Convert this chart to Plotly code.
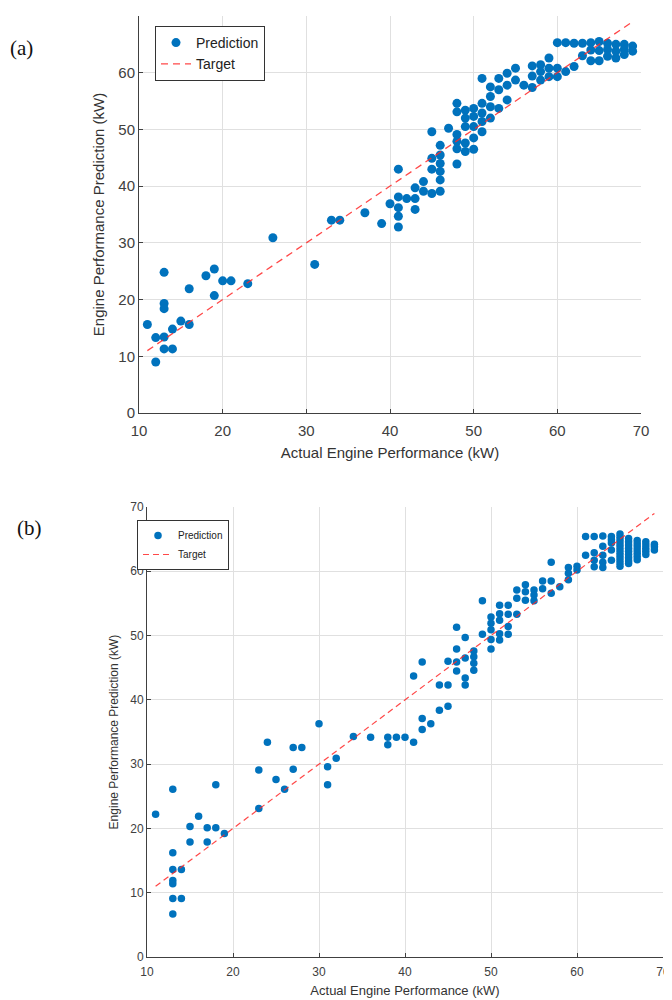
import plotly.graph_objects as go

# ---------------- data: panel (a) ----------------
a_actual = [11, 12, 12, 13, 13, 13, 13, 13, 14, 14, 15, 16, 16, 18, 19, 19, 20, 21, 23, 26, 31,
            33, 34, 37, 39, 40,
            41, 41, 41, 41, 41,
            42, 43, 43, 43, 44, 44,
            45, 45, 45, 45,
            46, 46, 46, 46, 46, 46,
            47,
            48, 48, 48, 48, 48, 48,
            49, 49, 49, 49, 49,
            50, 50, 50, 50, 50,
            51, 51, 51, 51, 51,
            52, 52, 52, 52,
            53, 53, 53,
            54, 54, 54,
            55, 55,
            56,
            57, 57, 57,
            58, 58, 58,
            59, 59, 59,
            60, 60, 60,
            61, 61,
            62, 62,
            63, 63,
            64, 64, 64,
            65, 65, 65,
            66, 66, 66,
            67, 67, 67,
            68, 68, 68,
            69, 69]
a_pred = [15.6, 13.3, 9.0, 24.8, 19.3, 18.4, 13.4, 11.3, 11.3, 14.8, 16.2, 15.6, 21.9, 24.2, 25.4, 20.7, 23.3, 23.3, 22.8, 30.9, 26.2,
          34.0, 34.0, 35.3, 33.4, 36.9,
          43.0, 38.1, 36.2, 34.7, 32.8,
          37.8, 39.7, 37.8, 35.9, 40.8, 39.1,
          49.6, 44.9, 43.0, 38.7,
          47.2, 45.5, 44.0, 42.6, 41.1, 39.1,
          50.2,
          54.6, 53.1, 49.1, 47.9, 46.6, 43.9,
          53.4, 52.0, 50.5, 47.6, 46.1,
          53.7, 52.3, 50.5, 48.5, 46.5,
          59.0, 54.6, 52.9, 51.4, 49.6,
          57.5, 55.8, 54.0, 52.0,
          59.0, 57.0, 53.7,
          59.9, 57.8, 55.2,
          60.8, 58.7,
          57.8,
          61.2, 59.4, 57.4,
          61.4, 60.2, 58.7,
          62.6, 60.8, 59.3,
          65.3, 60.8, 59.3,
          65.3, 60.2,
          65.2, 61.1,
          65.2, 63.0,
          65.3, 64.0, 62.1,
          65.5, 63.9, 62.1,
          65.2, 64.1, 62.9,
          65.0, 63.8, 62.6,
          65.0, 64.1, 63.2,
          64.7, 63.8]

# ---------------- data: panel (b) ----------------
b_actual = [11, 13, 13, 13, 13, 13, 13, 13, 14, 14,
            15, 15, 16, 17, 17, 18, 18, 19,
            23, 23, 24, 25, 26, 27, 27, 28, 30, 31, 31, 32, 34, 36, 38, 38, 39, 40, 41, 41,
            42, 42, 42, 43, 44, 44, 45, 45, 45,
            46, 46, 46, 46, 47, 47, 47, 47,
            48, 48, 48, 48, 49, 49,
            50, 50, 50, 50, 50,
            51, 51, 51, 51, 51,
            52, 52, 52, 52,
            53, 53, 53,
            54, 54, 54,
            55, 55, 55,
            56, 56,
            57, 57, 57,
            58,
            59, 59, 59,
            60, 60,
            61, 61,
            62, 62, 62, 62,
            63, 63, 63, 63, 63,
            64, 64, 64, 64, 64,
            65, 65, 65, 65, 65, 65, 65, 65, 65, 65, 65,
            66, 66, 66, 66, 66, 66, 66, 66, 66,
            67, 67, 67, 67, 67, 67, 67,
            68, 68, 68, 68, 68,
            69, 69, 69]
b_pred = [22.2, 26.1, 16.2, 13.6, 11.9, 11.4, 9.1, 6.7, 13.6, 9.1,
          20.3, 17.9, 21.9, 20.1, 17.9, 20.1, 26.8, 19.2,
          29.1, 23.1, 33.4, 27.6, 26.1, 32.6, 29.2, 32.6, 36.3, 29.6, 26.8, 30.9, 34.3, 34.2, 34.2, 33.0, 34.2, 34.2, 33.4, 43.7,
          45.9, 37.1, 35.4, 36.3, 42.3, 38.4, 46.0, 42.3, 39.0,
          51.3, 47.9, 45.9, 44.5, 49.7, 46.5, 43.4, 42.3,
          47.6, 46.7, 45.7, 44.6, 55.4, 50.2,
          52.9, 51.9, 50.9, 49.4, 47.9,
          54.7, 53.4, 52.4, 50.3, 49.3,
          54.7, 53.3, 51.4, 50.2,
          57.1, 55.8, 53.3,
          57.9, 56.8, 55.5,
          57.1, 56.3, 55.4,
          58.5, 57.3,
          61.4, 58.5, 56.6,
          57.6,
          60.6, 59.7, 58.7,
          60.8, 60.2,
          65.4, 62.5,
          65.4, 62.9, 61.7, 60.7,
          65.5, 63.9, 62.5, 61.4, 60.6,
          65.4, 64.9, 64.4, 63.3, 61.7,
          65.8, 65.3, 64.8, 64.3, 63.8, 63.3, 62.8, 62.3, 61.8, 61.3, 60.8,
          65.1, 64.6, 64.1, 63.6, 63.1, 62.6, 62.1, 61.6, 61.2,
          64.8, 64.3, 63.8, 63.3, 62.8, 62.3, 61.8,
          64.6, 64.1, 63.6, 63.1, 62.6,
          64.2, 63.8, 63.3]

target_x = [11, 69]
target_y = [11, 69]

tick_vals_x = [10, 20, 30, 40, 50, 60, 70]
tick_vals_y = [0, 10, 20, 30, 40, 50, 60, 70]
x_title = "Actual Engine Performance (kW)"
y_title = "Engine Performance Prediction (kW)"

BLUE = "#0072BD"
RED = "rgba(255,40,40,0.85)"
AXC = "#404040"
GRID = "#e0e0e0"
FONT = "Liberation Sans, Arial, sans-serif"

# the page body has an 8px default margin; map window pixels to paper fractions
OFF = 8
W, H = 672 - OFF, 1000 - OFF


def fx(px):
    return (px - OFF) / W


def fy(py):
    return 1 - (py - OFF) / H


fig = go.Figure()

fig.add_trace(go.Scatter(x=a_actual, y=a_pred, mode="markers", name="Prediction",
                         marker=dict(color=BLUE, size=9), xaxis="x", yaxis="y", legend="legend"))
fig.add_trace(go.Scatter(x=target_x, y=target_y, mode="lines", name="Target",
                         line=dict(color=RED, width=1.3, dash="7px,5px"), xaxis="x", yaxis="y", legend="legend"))
fig.add_trace(go.Scatter(x=b_actual, y=b_pred, mode="markers", name="Prediction",
                         marker=dict(color=BLUE, size=7.5), xaxis="x2", yaxis="y2", legend="legend2"))
fig.add_trace(go.Scatter(x=target_x, y=target_y, mode="lines", name="Target",
                         line=dict(color=RED, width=1.2, dash="6px,4px"), xaxis="x2", yaxis="y2", legend="legend2"))


def xax(domain, anchor, fs, tfs, standoff, lstand):
    return dict(domain=domain, anchor=anchor, range=[10, 70], tickvals=tick_vals_x, automargin=False,
                showgrid=True, gridcolor=GRID, gridwidth=1, zeroline=False,
                showline=True, linecolor=AXC, linewidth=1, ticks="inside", ticklen=4, tickcolor=AXC,
                ticklabelstandoff=lstand, ticklabeloverflow="allow",
                tickfont=dict(family=FONT, size=fs, color=AXC),
                title=dict(text=x_title, font=dict(family=FONT, size=tfs, color="#333333"), standoff=standoff))


def yax(domain, anchor, fs, tfs, standoff):
    return dict(domain=domain, anchor=anchor, range=[0, 70], tickvals=tick_vals_y, automargin=False,
                showgrid=True, gridcolor=GRID, gridwidth=1, zeroline=False,
                showline=True, linecolor=AXC, linewidth=1, ticks="inside", ticklen=4, tickcolor=AXC,
                tickfont=dict(family=FONT, size=fs, color=AXC),
                title=dict(text=y_title, font=dict(family=FONT, size=tfs, color="#333333"), standoff=standoff))


fig.update_layout(
    width=W, height=H,
    margin=dict(l=0, r=0, t=0, b=0, autoexpand=False),
    paper_bgcolor="white", plot_bgcolor="white",
    font=dict(family=FONT, color=AXC),
    xaxis=xax([fx(139), fx(641)], "y", 15, 15, 9, 4),
    yaxis=yax([fy(413), fy(16)], "x", 15, 15, 10),
    xaxis2=xax([fx(147), fx(663)], "y2", 12, 13, 7, 4),
    yaxis2=yax([fy(957), fy(507)], "x2", 12, 12, 9),
    legend=dict(x=fx(155), y=fy(26), xanchor="left", yanchor="top",
                bordercolor="#333333", borderwidth=1, bgcolor="white",
                font=dict(family=FONT, size=14, color="#222222"), tracegroupgap=0),
    legend2=dict(x=fx(137), y=fy(520), xanchor="left", yanchor="top",
                 bordercolor="#333333", borderwidth=1, bgcolor="white",
                 font=dict(family=FONT, size=10, color="#222222"), tracegroupgap=0),
    showlegend=True,
    annotations=[
        dict(text="(a)", x=fx(22), y=fy(48), xref="paper", yref="paper", xanchor="center", yanchor="middle",
             showarrow=False, font=dict(family="Liberation Serif, serif", size=21, color="#111111")),
        dict(text="(b)", x=fx(29), y=fy(528), xref="paper", yref="paper", xanchor="center", yanchor="middle",
             showarrow=False, font=dict(family="Liberation Serif, serif", size=21, color="#111111")),
    ],
)

fig.write_html("out.html")
